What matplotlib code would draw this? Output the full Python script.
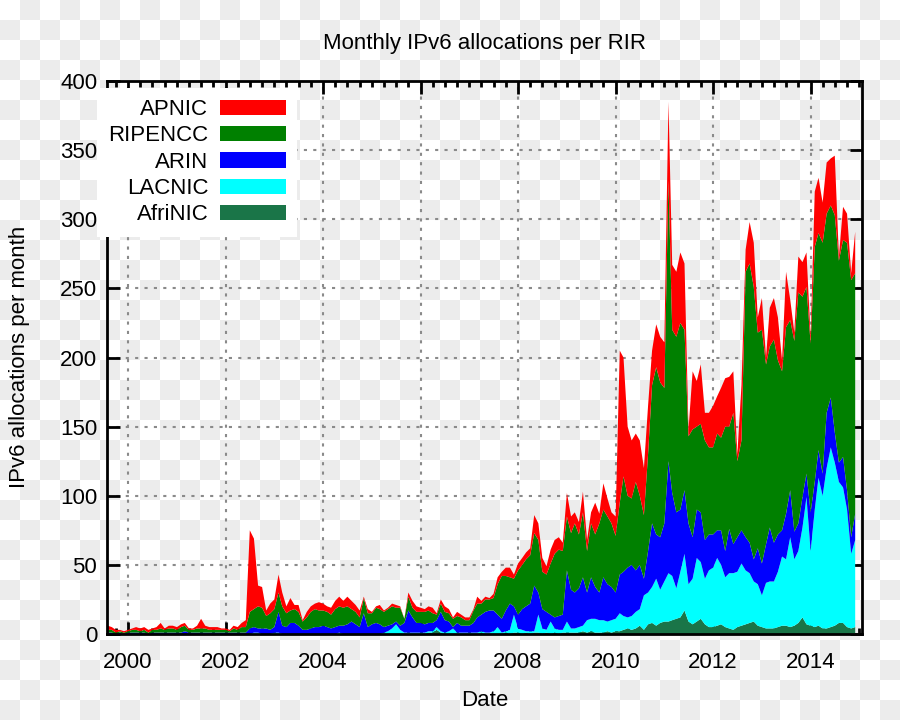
import numpy as np
import pandas as pd
import matplotlib
matplotlib.use("Agg")
import matplotlib.pyplot as plt
import matplotlib.dates as mdates

plt.rcParams['font.family'] = ['Liberation Sans', 'DejaVu Sans']

# monthly allocations, Aug 1999 .. Dec 2014 (one line per year)
months = pd.date_range('1999-08-01', '2014-12-01', freq='MS')

apnic = [3, 2, 2, 1, 1,
         1, 1, 2, 2, 2, 2, 1, 2, 4, 1, 2, 2,
         2, 2, 2, 1, 1, 2, 7, 2, 2, 2, 2, 1,
         1, 1, 2, 2, 3, 5, 59, 51, 15, 15, 4, 7,
         7, 13, 10, 5, 9, 3, 5, 1, 4, 4, 4, 6,
         5, 4, 5, 6, 7, 5, 7, 6, 5, 5, 1, 3,
         1, 1, 3, 1, 1, 2, 2, 1, 0, 3, 5, 4,
         3, 2, 3, 4, 1, 3, 4, 3, 1, 3, 2, 2,
         2, 1, 5, 2, 2, 1, 3, 5, 3, 6, 7, 3,
         5, 5, 5, 5, 13, 12, 10, 6, 10, 10, 9, 6,
         17, 12, 8, 9, 15, 8, 8, 23, 7, 19, 13, 8,
         14, 110, 86, 50, 42, 35, 40, 34, 35, 25, 31, 33,
         33, 57, 47, 47, 51, 48, 5, 42, 33, 43, 20, 25,
         30, 27, 36, 35, 36, 30, 5, 40, 16, 30, 32, 11,
         23, 5, 28, 30, 31, 8, 40, 15, 6, 26, 25, 25,
         5, 40, 40, 29, 37, 34, 43, 3, 24, 21, 5, 30]

ripencc = [2, 2, 1, 1, 1,
           1, 2, 2, 1, 2, 1, 2, 2, 3, 2, 3, 3,
           2, 4, 4, 2, 2, 3, 3, 3, 2, 2, 2, 2,
           2, 1, 3, 2, 4, 4, 12, 13, 16, 15, 9, 12,
           13, 14, 14, 10, 9, 10, 10, 6, 9, 12, 13, 12,
           11, 11, 10, 13, 14, 13, 13, 9, 9, 7, 11, 10,
           8, 11, 11, 11, 12, 13, 10, 13, 3, 10, 7, 8,
           8, 9, 9, 7, 4, 6, 6, 6, 6, 5, 6, 4,
           4, 9, 10, 8, 9, 8, 9, 22, 31, 25, 19, 20,
           32, 32, 34, 35, 38, 38, 27, 27, 37, 46, 48, 46,
           39, 41, 50, 39, 47, 30, 39, 38, 50, 49, 49, 46,
           41, 52, 69, 52, 48, 64, 50, 46, 70, 100, 121, 112,
           98, 203, 118, 127, 135, 116, 63, 78, 60, 64, 72, 63,
           63, 70, 67, 90, 74, 95, 55, 65, 192, 202, 197, 156,
           169, 130, 131, 147, 126, 115, 135, 123, 138, 167, 145, 135,
           122, 170, 157, 167, 144, 139, 157, 146, 157, 179, 186, 174]

arin = [1, 1, 0, 1, 0,
        1, 1, 1, 1, 1, 0, 1, 1, 1, 1, 1, 1,
        1, 1, 2, 1, 1, 1, 1, 1, 1, 1, 1, 1,
        1, 1, 1, 1, 1, 1, 4, 4, 3, 4, 4, 3,
        4, 15, 6, 5, 8, 8, 6, 3, 3, 4, 5, 5,
        6, 5, 4, 5, 5, 6, 7, 9, 7, 5, 15, 5,
        7, 8, 7, 4, 4, 3, 2, 3, 7, 16, 11, 7,
        7, 6, 6, 6, 5, 14, 9, 7, 1, 7, 5, 5,
        5, 7, 11, 12, 15, 16, 15, 9, 10, 15, 19, 6,
        10, 15, 18, 20, 33, 16, 14, 13, 5, 8, 10, 11,
        37, 28, 26, 28, 35, 20, 30, 23, 20, 31, 27, 24,
        19, 28, 32, 36, 37, 30, 32, 12, 30, 46, 32, 38,
        42, 81, 60, 55, 45, 46, 44, 30, 35, 36, 28, 26,
        24, 20, 25, 19, 32, 21, 25, 24, 24, 22, 16, 26,
        23, 28, 39, 28, 27, 19, 33, 34, 20, 20, 22, 17,
        28, 20, 20, 16, 40, 36, 22, 14, 22, 14, 12, 19]

lacnic = [0, 0, 0, 0, 0,
          0, 0, 0, 0, 0, 0, 0, 0, 0, 0, 0, 0,
          0, 0, 0, 0, 0, 0, 0, 0, 0, 0, 0, 0,
          0, 0, 0, 0, 0, 0, 0, 1, 1, 0, 0, 0,
          1, 1, 0, 0, 0, 0, 0, 0, 0, 0, 0, 0,
          0, 0, 0, 0, 1, 0, 0, 0, 0, 0, 0, 0,
          0, 0, 0, 1, 2, 4, 7, 3, 1, 1, 1, 1,
          1, 1, 1, 1, 2, 1, 1, 2, 4, 1, 1, 1,
          1, 1, 1, 1, 1, 1, 2, 5, 1, 1, 3, 13,
          3, 3, 1, 2, 1, 13, 4, 2, 9, 3, 3, 2,
          8, 3, 3, 4, 4, 9, 9, 10, 9, 9, 7, 9,
          9, 13, 10, 8, 10, 12, 12, 25, 23, 26, 34, 24,
          29, 35, 32, 22, 33, 41, 27, 33, 46, 41, 33, 41,
          43, 49, 43, 36, 40, 41, 40, 45, 39, 36, 29, 30,
          23, 33, 34, 34, 40, 50, 48, 65, 48, 52, 65, 92,
          54, 85, 107, 96, 116, 130, 118, 102, 98, 85, 54, 63]

afrinic = [0, 0, 0, 0, 0,
           0, 0, 0, 0, 0, 0, 0, 0, 0, 0, 0, 0,
           0, 0, 0, 0, 0, 0, 0, 0, 0, 0, 0, 0,
           0, 0, 0, 0, 0, 0, 0, 0, 0, 0, 0, 0,
           0, 0, 0, 0, 0, 0, 0, 0, 0, 0, 0, 0,
           0, 0, 0, 0, 0, 0, 0, 0, 0, 0, 0, 0,
           0, 0, 0, 0, 0, 0, 0, 0, 0, 0, 0, 0,
           0, 0, 1, 1, 3, 1, 0, 0, 0, 0, 0, 0,
           0, 0, 0, 1, 0, 0, 0, 0, 0, 1, 0, 1,
           1, 0, 1, 0, 1, 1, 0, 1, 0, 1, 0, 1,
           1, 1, 1, 1, 2, 1, 2, 1, 1, 1, 2, 1,
           2, 2, 3, 4, 3, 4, 6, 3, 7, 8, 6, 8,
           9, 9, 10, 11, 12, 17, 9, 7, 9, 11, 7, 5,
           5, 6, 7, 5, 4, 3, 5, 6, 7, 8, 9, 6,
           5, 4, 4, 4, 5, 6, 6, 5, 6, 8, 12, 7,
           6, 5, 6, 4, 4, 5, 6, 8, 8, 5, 4, 5]

labels = ['AfriNIC', 'LACNIC', 'ARIN', 'RIPENCC', 'APNIC']
colors = ['#1a7548', '#00ffff', '#0000ff', '#008000', '#ff0000']

fig = plt.figure(figsize=(9, 7.2), dpi=100)
fig.patch.set_facecolor('white')

# transparent-background checkerboard like the reference
yy, xx = np.indices((720, 900))
chk = np.where(((yy // 20) + (xx // 20)) % 2 == 1, 236, 255).astype(np.uint8)
fig.figimage(np.dstack([chk, chk, chk]), xo=0, yo=0, origin='upper', zorder=-5)

ax = fig.add_axes([107 / 900, 1 - 634 / 720, 755 / 900, 553 / 720])
ax.set_facecolor('none')

polys = ax.stackplot(months, afrinic, lacnic, arin, ripencc, apnic,
                     colors=colors, labels=labels, linewidth=0)

ax.set_xlim(pd.Timestamp('1999-07-27'), pd.Timestamp('2015-01-21'))
ax.set_ylim(0, 400)
ax.set_yticks(np.arange(0, 401, 50))
ax.xaxis.set_major_locator(mdates.YearLocator(2))
ax.xaxis.set_major_formatter(mdates.DateFormatter('%Y'))
ax.xaxis.set_minor_locator(mdates.MonthLocator(bymonth=[1, 4, 7, 10]))

ax.grid(True, which='major', color='#8a8a8a', linestyle=(0, (1.5, 3)), linewidth=1.5)
ax.set_axisbelow(True)

for s in ax.spines.values():
    s.set_linewidth(2)
ax.tick_params(which='both', direction='in', top=True, right=True, width=2)
ax.tick_params(which='major', length=9, labelsize=16)
ax.tick_params(which='minor', length=4)
ax.tick_params(axis='x', pad=13)
ax.tick_params(axis='y', pad=7)

h, l = ax.get_legend_handles_labels()
leg = ax.legend(h[::-1], l[::-1], loc='upper left', bbox_to_anchor=(-0.013, 0.9873),
                markerfirst=False, fontsize=16, handlelength=3.0, handleheight=0.7,
                handletextpad=0.5, labelspacing=0.24, borderaxespad=0, borderpad=0.5,
                frameon=True, fancybox=False)
leg.get_frame().set_facecolor('white')
leg.get_frame().set_edgecolor('none')
leg.get_frame().set_alpha(1)
for t in leg.get_texts():
    t.set_ha('right')

fig.text(484.5 / 900, 1 - 43 / 720, 'Monthly IPv6 allocations per RIR',
         ha='center', va='center', fontsize=16)
fig.text(484.5 / 900, 1 - 700 / 720, 'Date', ha='center', va='center', fontsize=16)
fig.text(20 / 900, 1 - 357 / 720, 'IPv6 allocations per month', ha='center',
         va='center', rotation=90, fontsize=16)

fig.savefig('out.png', dpi=100)
